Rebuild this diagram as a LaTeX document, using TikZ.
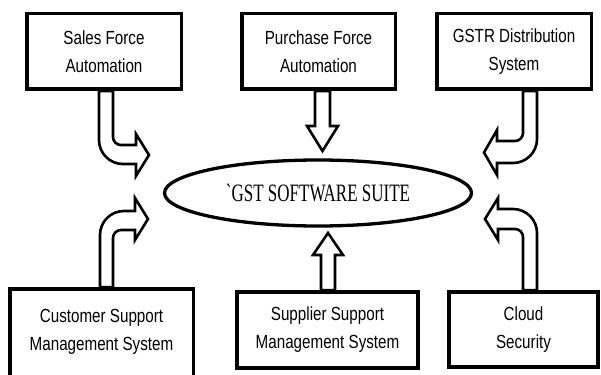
\documentclass[tikz,border=0pt]{standalone}
\usepackage{fontspec}
\usepackage{graphicx}
\setmainfont{Liberation Sans}
\newfontfamily\suitefont{Liberation Serif}
\usetikzlibrary{shapes.geometric,backgrounds}
% narrow lettering for the module captions
\newcommand{\nrw}[1]{\scalebox{0.8}[1]{#1}}
\begin{document}
\begin{tikzpicture}[x=1pt,y=-1pt,
  module/.style={draw=black, line width=3.5pt, fill=white, align=center,
    inner sep=0pt, font=\fontsize{19pt}{28pt}\selectfont},
  suite/.style={draw=black, line width=3.3pt, fill=white, ellipse,
    inner sep=0pt, minimum width=307pt, minimum height=66pt,
    font=\suitefont\fontsize{25pt}{30pt}\selectfont},
  blockarrow/.style={draw=black, line width=2.6pt, fill=white, line join=miter}
]
\useasboundingbox (0,0) rectangle (601,374);
\clip (0,0) rectangle (601,374);

% modules around the suite
\node[module, minimum width=154.5pt, minimum height=75.5pt] (sfa) at (104,51.5)
  {\nrw{Sales Force}\\\nrw{Automation}};
\node[module, minimum width=153.5pt, minimum height=75.5pt] (pfa) at (318.5,51.5)
  {\nrw{Purchase Force}\\\nrw{Automation}};
\node[module, minimum width=154.5pt, minimum height=75.5pt] (gstr) at (514,51.5)
  {\nrw{GSTR Distribution}\\\nrw{System}};
% this box runs on below the lower edge, so its caption is raised
\node[module, minimum width=183.5pt, minimum height=92pt] (csm) at (101.5,335)
  {\raisebox{4pt}[\height][\depth]{\begin{tabular}{@{}c@{}}\nrw{Customer Support}\\\nrw{Management System}\end{tabular}}};
\node[module, minimum width=181pt, minimum height=76pt] (ssm) at (327.5,330)
  {\nrw{Supplier Support}\\\nrw{Management System}};
\node[module, minimum width=149pt, minimum height=75pt] (cloud) at (523.5,329.5)
  {\nrw{Cloud}\\\nrw{Security}};

% central suite
\node[suite] (gst) at (318,193)
  {\scalebox{0.68}[1]{\char"60 GST SOFTWARE SUITE}};

\begin{pgfonlayer}{background}
% top left: bent arrow down and to the right
\draw[blockarrow] (113,0 |- sfa.south) -- (113,137)
  .. controls (113,141.4) and (116.6,145) .. (121,145) -- (136,145)
  -- (136,134) -- (149,155) -- (136,176) -- (136,164) -- (123,164)
  .. controls (109.7,164) and (99,153.3) .. (99,140) -- (99,0 |- sfa.south) -- cycle;
% top middle: straight arrow down
\draw[blockarrow] (315,0 |- pfa.south) -- (315,126) -- (307,126)
  -- (322.5,151) -- (338,126) -- (330,126) -- (330,0 |- pfa.south) -- cycle;
% top right: bent arrow down and to the left
\draw[blockarrow] (523,0 |- gstr.south) -- (523,133)
  .. controls (523,137.4) and (519.4,141) .. (515,141) -- (497,141)
  -- (497,130) -- (484,152.5) -- (497,175) -- (497,163) -- (513,163)
  .. controls (526.3,163) and (537,152.3) .. (537,139) -- (537,0 |- gstr.south) -- cycle;
% bottom left: bent arrow up and to the right
\draw[blockarrow] (100,0 |- csm.north) -- (100,235)
  .. controls (100,221.7) and (110.7,211) .. (124,211) -- (135,211)
  -- (135,198) -- (148,219) -- (135,240) -- (135,230) -- (121,230)
  .. controls (116.6,230) and (113,233.6) .. (113,238) -- (113,0 |- csm.north) -- cycle;
% bottom middle: straight arrow up
\draw[blockarrow] (321,0 |- ssm.north) -- (321,255) -- (313,255)
  -- (328,233) -- (343,255) -- (335,255) -- (335,0 |- ssm.north) -- cycle;
% bottom right: bent arrow up and to the left
\draw[blockarrow] (537,0 |- cloud.north) -- (537,233)
  .. controls (537,219.7) and (526.3,209) .. (513,209) -- (498,209)
  -- (498,198) -- (485,219) -- (498,240) -- (498,229) -- (515,229)
  .. controls (519.4,229) and (523,232.6) .. (523,237) -- (523,0 |- cloud.north) -- cycle;
\end{pgfonlayer}
\end{tikzpicture}
\end{document}
